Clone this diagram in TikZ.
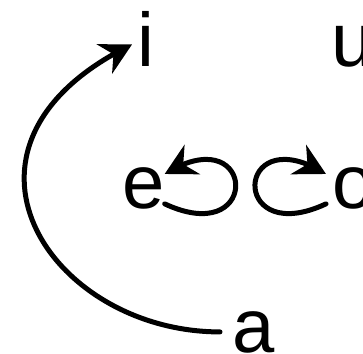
\documentclass[tikz,border=0pt]{standalone}
\usepackage{fontspec}
\setmainfont{Liberation Sans}
\usetikzlibrary{arrows.meta,bending}
\tikzset{
  vwl/.style={anchor=base west, inner sep=0pt, font=\fontsize{76}{76}\selectfont},
  vrel/.style={draw=black, line width=5pt, line cap=round,
               -{Stealth[length=31pt,width=33pt]}},
}

\begin{document}
\begin{tikzpicture}[x=1pt,y=1pt]
  \useasboundingbox (0,0) rectangle (363,353);
  \node[vwl] (i) at (137,286) {i};
  \node[vwl] (u) at (331,286) {u};
  \node[vwl] (e) at (122,144) {e};
  \node[vwl] (o) at (332,144) {o};
  \node[vwl] (a) at (232,1) {a};
  \draw[vrel] ([xshift=-12pt]a.west) to[out=180,in=206,out distance=170pt,in distance=230pt] ([shift={(-5pt,-5pt)}]i.west);
  \draw[vrel] (e.-35) to[out=-25,in=32,distance=108pt] (e.35);
  \draw[vrel] ([xshift=-6pt]o.215) to[out=205,in=148,distance=108pt] ([xshift=-6pt]o.145);
\end{tikzpicture}
\end{document}
